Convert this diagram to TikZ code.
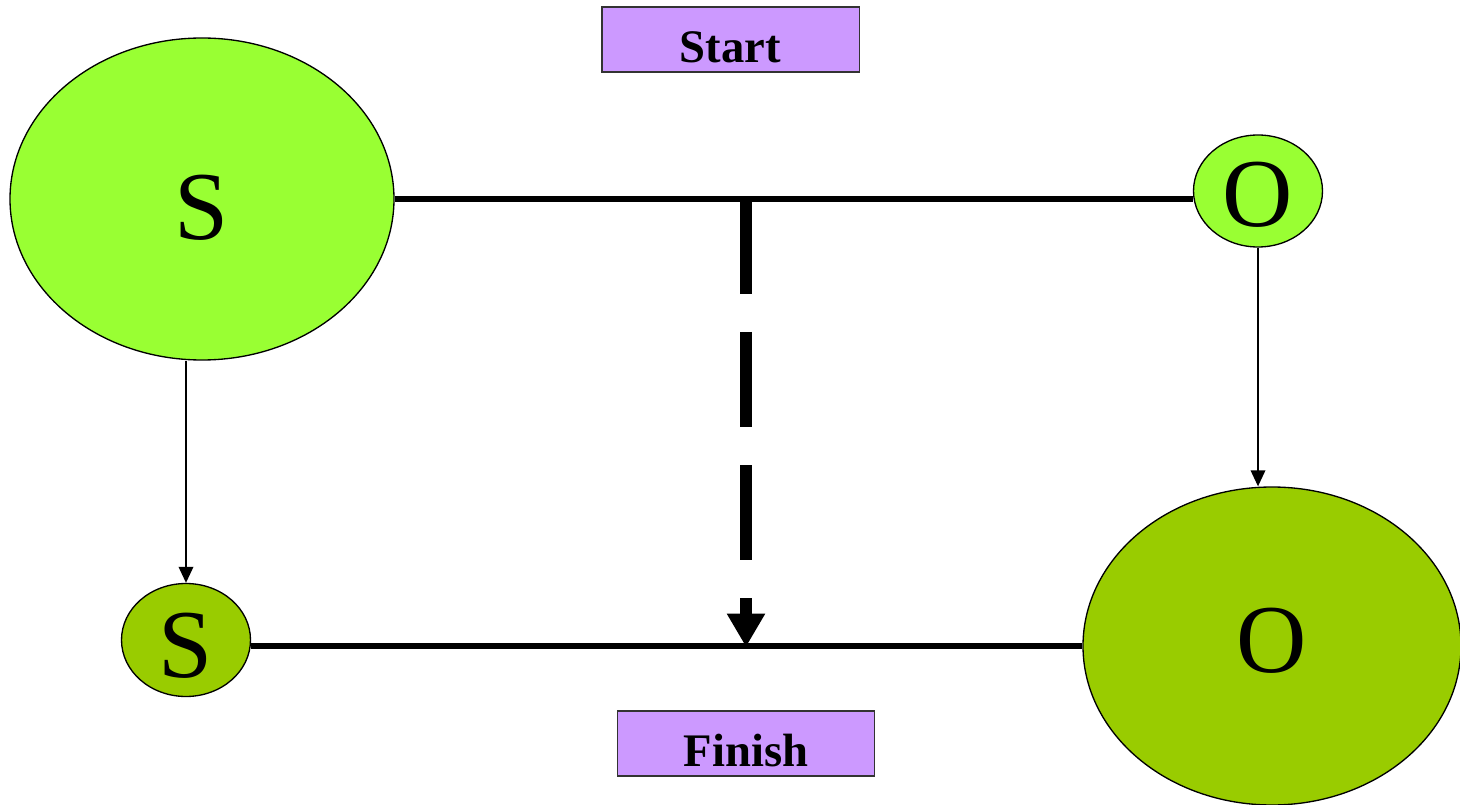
\documentclass[tikz,border=0pt]{standalone}
\usepackage{fontspec}
\setmainfont{Liberation Serif}
\newfontfamily\timesfont{Liberation Serif}
\usetikzlibrary{shapes.geometric,arrows.meta,backgrounds}
\definecolor{brightgreen}{HTML}{99FF33}
\definecolor{olivegreen}{HTML}{99CC00}
\definecolor{lilac}{HTML}{CC99FF}
\begin{document}
\begin{tikzpicture}[x=0.75pt,y=-0.75pt,
  oval/.style={ellipse,draw=black,line width=1pt,inner sep=0pt,font=\timesfont\fontsize{73}{73}\selectfont,text depth=0pt},
  labelbox/.style={rectangle,draw=black!80,line width=1pt,fill=lilac,inner sep=0pt,
    minimum width=193pt,minimum height=48.75pt,font=\timesfont\bfseries\fontsize{35}{35}\selectfont,
    text height=35pt,text depth=0pt},
  thickline/.style={line width=4.2pt},
  thinarrow/.style={line width=1pt,-{Triangle[length=12pt,width=11pt]}},
  dasharrow/.style={line width=9pt,dash pattern=on 71.25pt off 28.5pt,-{Triangle[length=25pt,width=27pt]}}]
\useasboundingbox (0,0) rectangle (1460,805);
\node[labelbox] (start) at (730.5,39.5) {Start};
\node[labelbox] (finish) at (746,743.5) {Finish};
\node[oval,fill=brightgreen,minimum width=288pt,minimum height=241.5pt,text height=61.5pt] (bigS) at (202,199) {S};
\node[oval,fill=brightgreen,minimum width=96.75pt,minimum height=84pt,text height=54pt] (oSmall) at (1258,191) {O};
\node[oval,fill=olivegreen,minimum width=96.75pt,minimum height=84.75pt,text height=55.5pt] (sSmall) at (186,640) {S};
\node[oval,fill=olivegreen,minimum width=283.5pt,minimum height=238.5pt,text height=39pt] (bigO) at (1272,646) {O};
\coordinate (topmid) at (746,199);
\coordinate (botmid) at (746,647);
\begin{scope}[on background layer]
\draw[thickline] (bigS.east) -- (bigS.east -| oSmall.west);
\draw[thickline] (sSmall.east |- bigO.west) -- (bigO.west);
\end{scope}
\draw[thinarrow] (sSmall.north |- bigS.south) -- (sSmall.north);
\draw[thinarrow] (oSmall.south) -- (oSmall.south |- bigO.north);
\draw[dasharrow] (topmid) -- (botmid);
\end{tikzpicture}
\end{document}
